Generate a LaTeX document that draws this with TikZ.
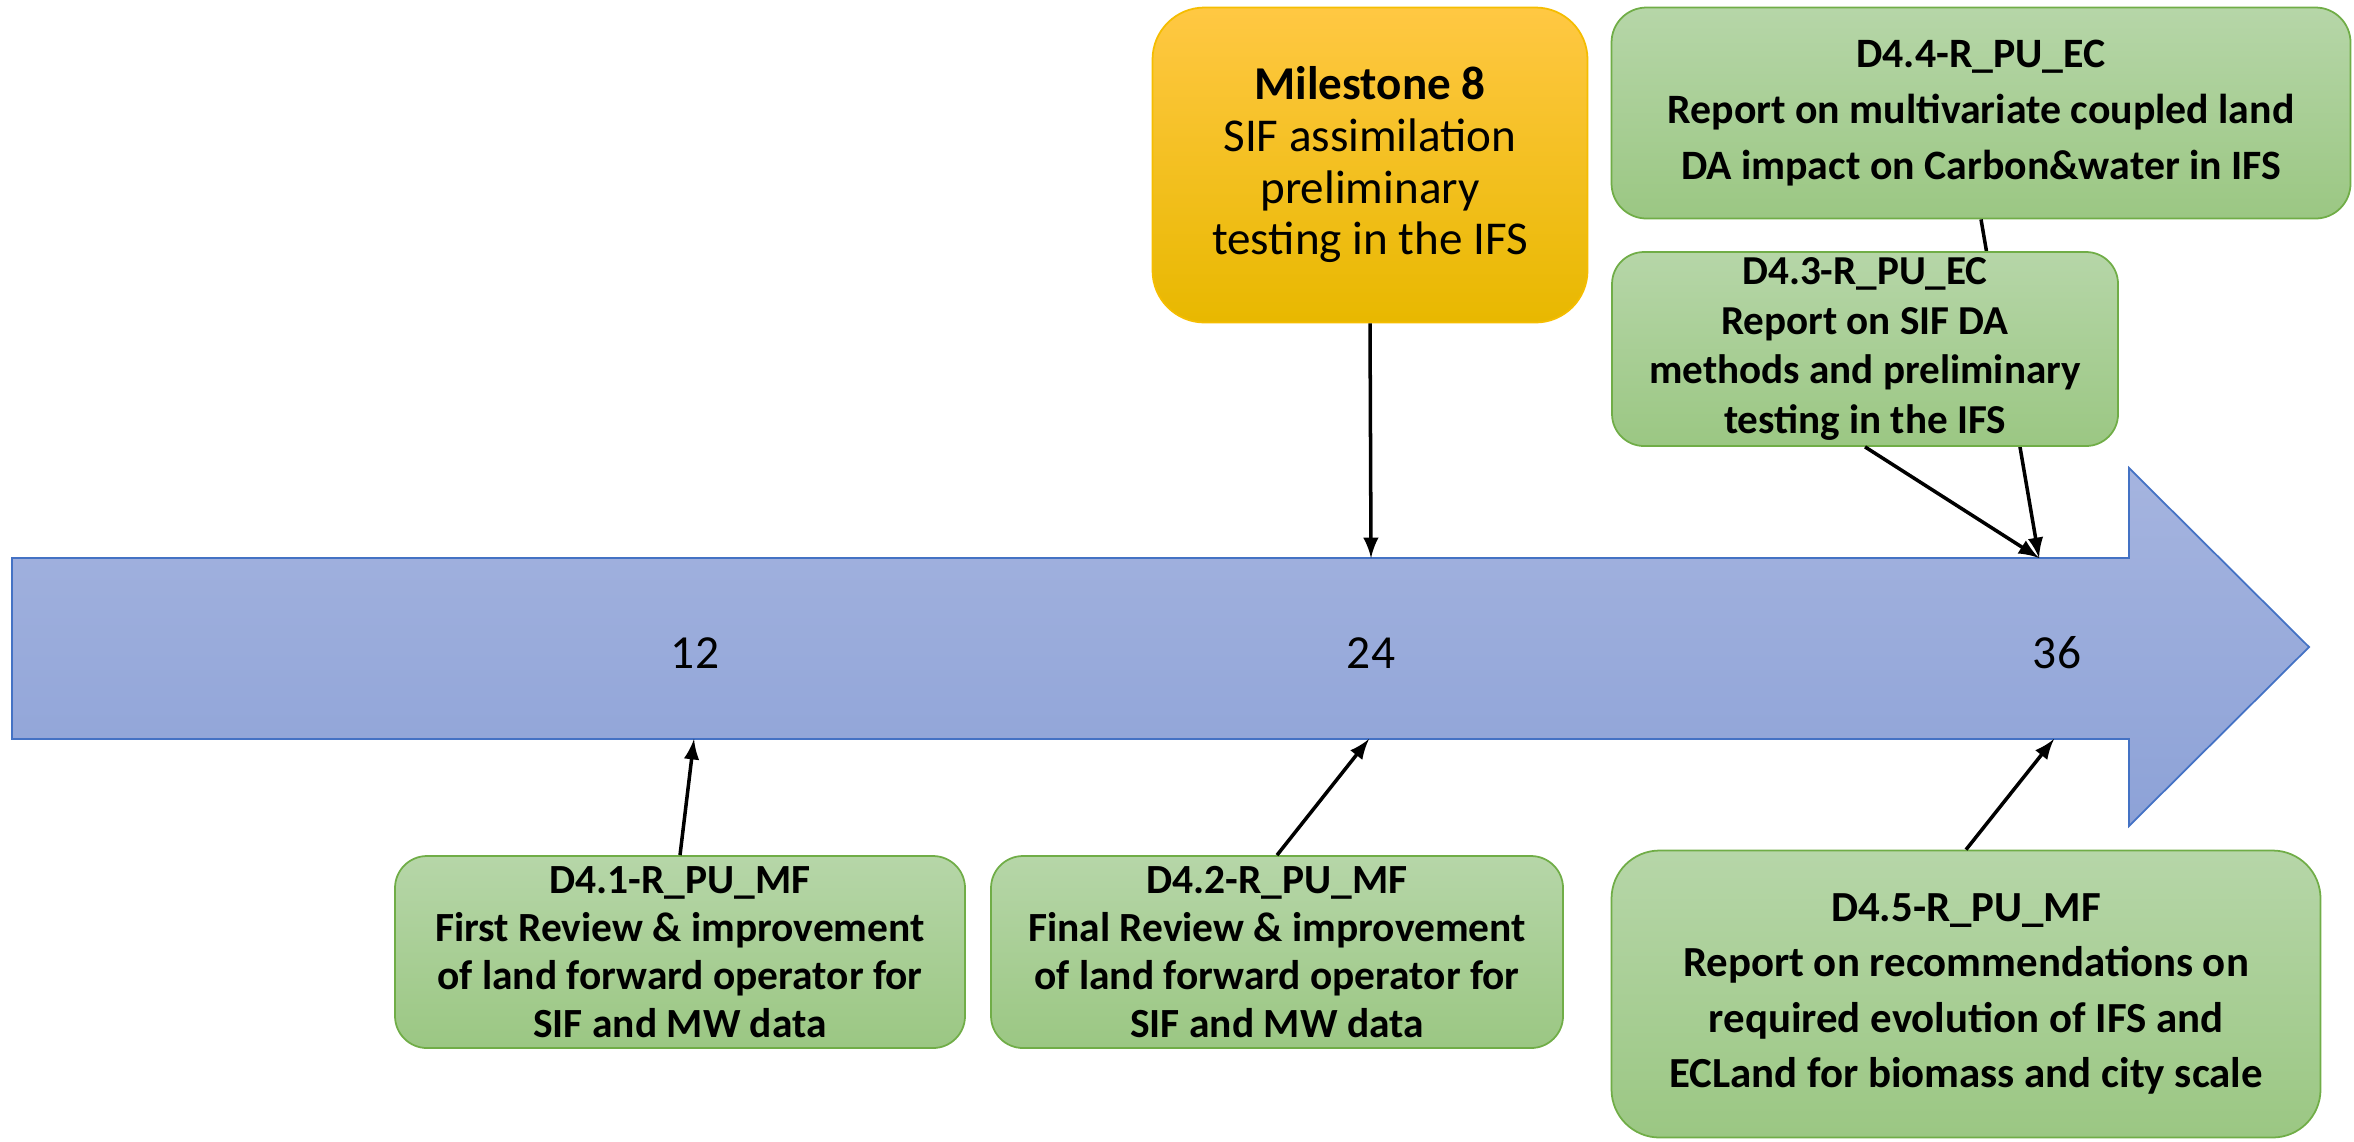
\documentclass[tikz,border=0pt]{standalone}
\usepackage{fontspec}
\setmainfont{Carlito}
\usetikzlibrary{arrows,positioning}

\definecolor{shafttop}{HTML}{A5B4DF}
\definecolor{shaftbot}{HTML}{8DA2D7}
\definecolor{shaftedge}{HTML}{4472C4}
\definecolor{greentop}{HTML}{B6D6A8}
\definecolor{greenbot}{HTML}{9BC783}
\definecolor{greenedge}{HTML}{70AD47}
\definecolor{goldtop}{HTML}{FFC843}
\definecolor{goldbot}{HTML}{E8B800}
\definecolor{goldedge}{HTML}{F5BD00}

\begin{document}
\begin{tikzpicture}[
x=0.1mm, y=-0.1mm,
deliv/.style={
  draw=greenedge,
  line width=0.5pt,
  top color=greentop,
  bottom color=greenbot,
  align=center,
  inner sep=0pt
  },
mile/.style={
  draw=goldedge,
  line width=0.5pt,
  top color=goldtop,
  bottom color=goldbot,
  align=center,
  inner sep=0pt
  },
month/.style={
  font=\fontsize{13.5}{16}\selectfont
  },
link/.style={
  ->,
  line width=1pt
  },
>=latex
]
\useasboundingbox (0,0) rectangle (2354,1141);

% timeline
\draw[draw=shaftedge, line width=0.5pt, top color=shafttop, bottom color=shaftbot]
  (12,558) -- (2129,558) -- (2129,468) -- (2309,647) -- (2129,826)
  -- (2129,739) -- (12,739) -- cycle;

\node[month] (m12) at (695,653) {12};
\node[month] (m24) at (1371,653) {24};
\node[month] (m36) at (2057,653) {36};

\coordinate (t12) at (694,739);
\coordinate (t24) at (1369,739);
\coordinate (t24top) at (1371,558);
\coordinate (t36) at (2054,739);
\coordinate (t36top) at (2039,558);

% milestone
\node[mile, minimum width=43.5mm, minimum height=31.5mm, rounded corners=5.2mm,
  font=\fontsize{13.4}{14.7}\selectfont]
  (ms) at (1370,165)
  {\textbf{Milestone 8}\\ SIF assimilation\\ preliminary\\ testing in the IFS};
\draw[link] (ms.south) -- (t24top);

% deliverables above the timeline
\node[deliv, minimum width=73.9mm, minimum height=21.1mm, rounded corners=3.5mm,
  font=\bfseries\fontsize{11.9}{15.9}\selectfont]
  (d44) at (1981,113)
  {D4.4-R\_PU\_EC\\
   Report on multivariate coupled land\\
   DA impact on Carbon\&water in IFS};
\draw[link] (d44.south) -- (t36top);

\node[deliv, minimum width=50.6mm, minimum height=19.4mm, rounded corners=3.2mm,
  font=\bfseries\fontsize{11.7}{14.2}\selectfont]
  (d43) at (1865,349)
  {D4.3-R\_PU\_EC\\ Report on SIF DA\\ methods and preliminary\\ testing in the IFS};
\draw[link] (d43.south) -- (t36top);

% deliverables below the timeline
\node[deliv, minimum width=57mm, minimum height=19.2mm, rounded corners=3.2mm,
  font=\bfseries\fontsize{11.8}{13.7}\selectfont]
  (d41) at (680,952)
  {D4.1-R\_PU\_MF\\ First Review \& improvement\\
   of land forward operator for\\ SIF and MW data};
\draw[link] (d41.north) -- (t12);

\node[deliv, minimum width=57.2mm, minimum height=19.2mm, rounded corners=3.2mm,
  font=\bfseries\fontsize{11.8}{13.7}\selectfont]
  (d42) at (1277,952)
  {D4.2-R\_PU\_MF\\ Final Review \& improvement\\
   of land forward operator for\\ SIF and MW data};
\draw[link] (d42.north) -- (t24);

\node[deliv, minimum width=70.9mm, minimum height=28.7mm, rounded corners=4.8mm,
  font=\bfseries\fontsize{12.2}{15.8}\selectfont]
  (d45) at (1966,994)
  {D4.5-R\_PU\_MF\\ Report on recommendations on\\
   required evolution of IFS and\\ ECLand for biomass and city scale};
\draw[link] (d45.north) -- (t36);

\end{tikzpicture}
\end{document}
